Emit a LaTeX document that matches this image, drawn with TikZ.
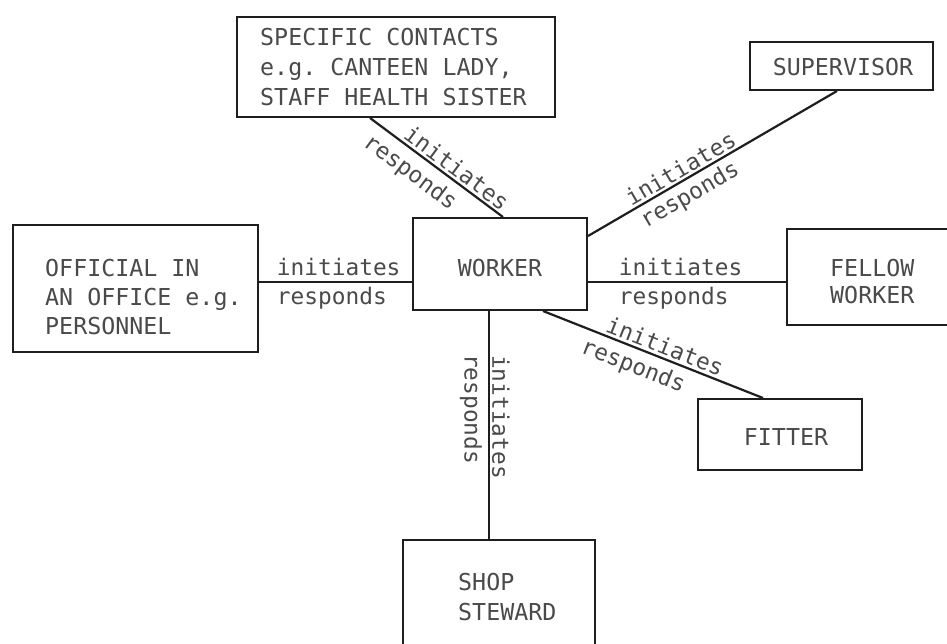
\documentclass[tikz,border=0pt]{standalone}
\usepackage{fontspec}
\setmonofont{DejaVu Sans Mono}
\usetikzlibrary{calc}
\definecolor{ink}{HTML}{4A4A4A}
\definecolor{lineink}{HTML}{1E1E1E}
\begin{document}
\begin{tikzpicture}[x=1pt,y=-1pt,
  box/.style={draw=lineink, line width=2pt, rectangle, inner sep=0pt},
  boxtext/.style={text=ink, inner sep=0pt, align=left},
  conn/.style={draw=lineink, line width=2.2pt},
  lab/.style={text=ink, font=\ttfamily\fontsize{22.8}{27}\selectfont, inner xsep=0pt},
]
\useasboundingbox[fill=white] (0,0) rectangle (947,643);

% boxes
\node[box, minimum width=318pt, minimum height=100pt] (spec) at (396,67) {};
\node[box, minimum width=183pt, minimum height=48pt] (sup) at (841.5,66) {};
\node[box, minimum width=245pt, minimum height=127pt] (off) at (135.5,288.5) {};
\node[box, minimum width=174pt, minimum height=92pt] (worker) at (500,264) {};
\node[box, minimum width=170pt, minimum height=96pt] (fellow) at (872,277) {};
\node[box, minimum width=164pt, minimum height=71pt] (fitter) at (780,434.5) {};
\node[box, minimum width=192pt, minimum height=120pt] (shop) at (499,600) {};

% box texts
\node[boxtext, anchor=west, font=\ttfamily\fontsize{23.3}{29.6}\selectfont] (spectxt) at (260,67)
  {SPECIFIC CONTACTS\\e.g. CANTEEN LADY,\\STAFF HEALTH SISTER};
\node[boxtext, font=\ttfamily\fontsize{23.3}{28}\selectfont] (suptxt) at (843,67) {SUPERVISOR};
\node[boxtext, anchor=west, font=\ttfamily\fontsize{23.3}{29}\selectfont] (offtxt) at (45,297)
  {OFFICIAL IN\\AN OFFICE e.g.\\PERSONNEL};
\node[boxtext, font=\ttfamily\fontsize{23.3}{28}\selectfont] (workertxt) at (500,268) {WORKER};
\node[boxtext, anchor=west, font=\ttfamily\fontsize{23.3}{27}\selectfont] (fellowtxt) at (830,281.5)
  {FELLOW\\WORKER};
\node[boxtext, font=\ttfamily\fontsize{23.3}{28}\selectfont] (fittertxt) at (786,437) {FITTER};
\node[boxtext, anchor=west, font=\ttfamily\fontsize{23.3}{30}\selectfont] (shoptxt) at (458,597)
  {SHOP\\STEWARD};

% helper coordinates on the worker box
\coordinate (wl) at ([yshift=-18pt]worker.west);
\coordinate (wr) at ([yshift=-18pt]worker.east);

% connectors
\draw[conn] ([xshift=-26pt]spec.south) --
  node[lab, sloped, above, pos=0.6, inner ysep=2pt] {initiates}
  node[lab, sloped, below, pos=0.39, inner ysep=8pt] {responds}
  ([xshift=3pt]worker.north);

\draw[conn] ([yshift=-19pt]worker.north east) --
  node[lab, sloped, above, pos=0.395, inner ysep=2pt] {initiates}
  node[lab, sloped, below, pos=0.377, inner ysep=4.5pt] {responds}
  ([xshift=-4.5pt]sup.south);

\draw[conn] (wl -| off.east) --
  node[lab, anchor=south west, pos=0.11, inner ysep=5pt] {initiates}
  node[lab, anchor=north west, pos=0.11, inner ysep=4pt] {responds}
  (wl);

\draw[conn] (wr) --
  node[lab, anchor=south west, pos=0.15, inner ysep=5pt] {initiates}
  node[lab, anchor=north west, pos=0.15, inner ysep=4pt] {responds}
  (wr -| fellow.west);

\draw[conn] ([xshift=43pt]worker.south) --
  node[lab, sloped, above, pos=0.535, inner ysep=2.5pt] {initiates}
  node[lab, sloped, below, pos=0.44, inner ysep=6.5pt] {responds}
  ([xshift=-17pt]fitter.north);

\draw[conn] ([xshift=-11pt]worker.south) --
  node[lab, pos=0.465, rotate=-90, anchor=south, inner ysep=2pt] {initiates}
  node[lab, pos=0.43, rotate=-90, anchor=north, inner ysep=6pt] {responds}
  ([xshift=-10pt]shop.north);
\end{tikzpicture}
\end{document}
